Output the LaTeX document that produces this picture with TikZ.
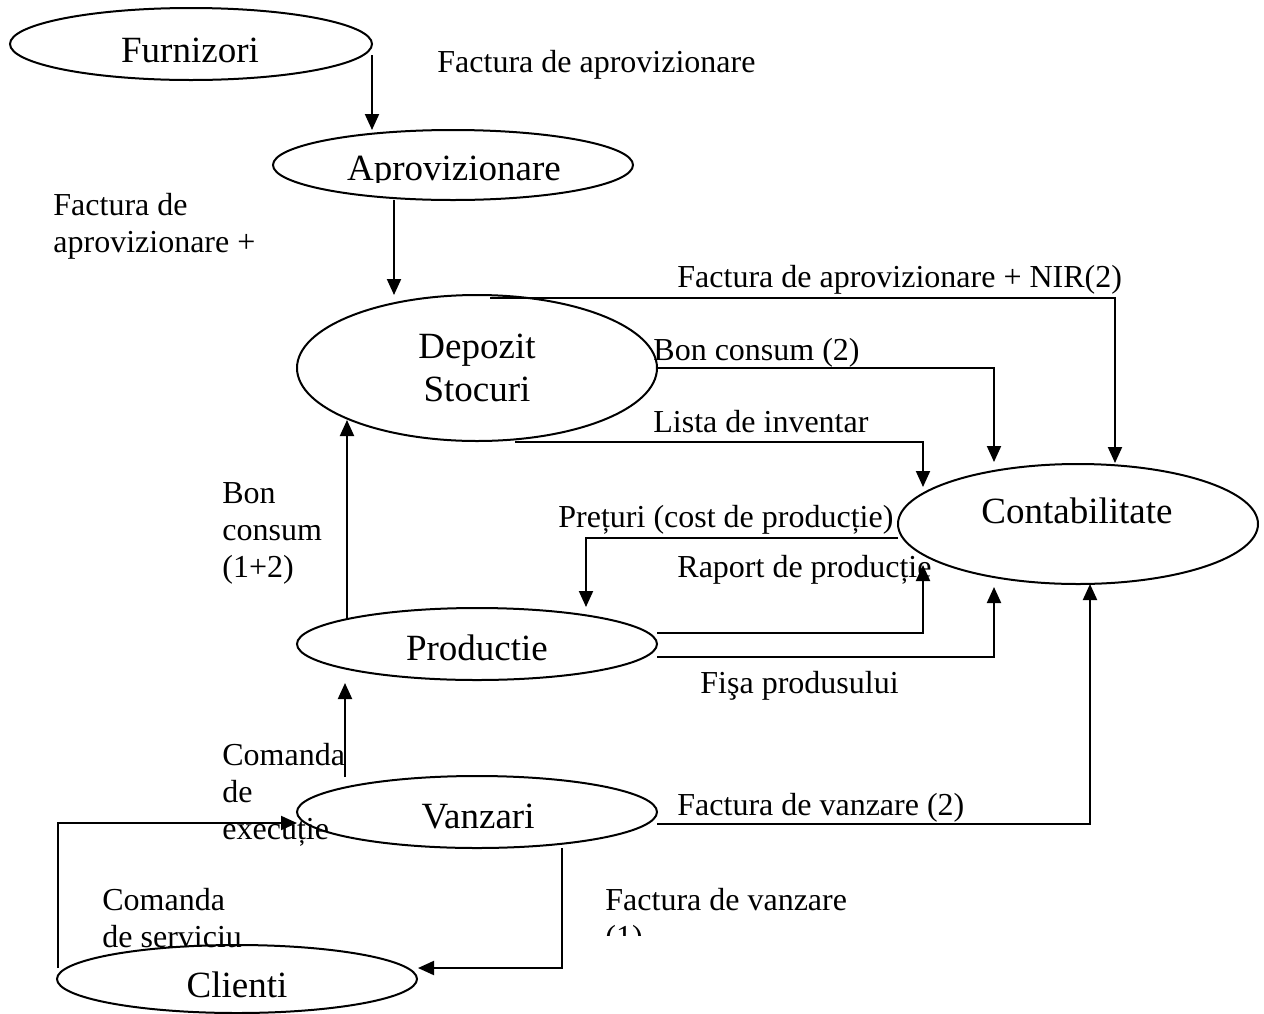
\documentclass[tikz,border=0pt]{standalone}
\usepackage{fontspec}
\setmainfont{Liberation Serif}
\usetikzlibrary{arrows.meta,shapes.geometric}
\begin{document}
\begin{tikzpicture}[x=0.5pt,y=-0.5pt,
  proc/.style={draw,ellipse,line width=1pt,inner sep=0pt,outer sep=0pt},
  big/.style={font=\fontsize{18.5}{21.5}\selectfont,inner sep=0pt,anchor=base},
  lbl/.style={font=\fontsize{16}{18.5}\selectfont,inner sep=0pt,anchor=base west},
  flow/.style={line width=1pt,-{Triangle[width=7pt,length=8pt]}},
]
\useasboundingbox (0,0) rectangle (1264,1013);

% processes
\node[proc,minimum width=181pt,minimum height=36pt] (furn) at (191,44) {};
\node[proc,minimum width=180pt,minimum height=35pt] (apro) at (453,165) {};
\node[proc,minimum width=180pt,minimum height=73pt] (dep)  at (477,368) {};
\node[proc,minimum width=180pt,minimum height=60pt] (cont) at (1078,524) {};
\node[proc,minimum width=180pt,minimum height=36pt] (prod) at (477,644) {};
\node[proc,minimum width=180pt,minimum height=36pt] (vanz) at (477,812) {};
\node[proc,minimum width=180pt,minimum height=34pt] (clie) at (237,979) {};

% process names
\node[big] (tfurn) at (190,62) {Furnizori};
\begin{scope}
  \clip (280,100) rectangle (640,182);
  \node[big] (tapro) at (454,180) {Aprovizionare};
\end{scope}
\node[big] (tdep) at (477,358) {\begin{tabular}[t]{@{}c@{}}Depozit\\Stocuri\end{tabular}};
\node[big] (tcont) at (1077,523) {Contabilitate};
\node[big] (tprod) at (477,660) {Productie};
\node[big] (tvanz) at (478,828) {Vanzari};
\node[big] (tclie) at (237,997) {Clienti};

% document flows
\draw[flow] ([yshift=-5.5pt]furn.east) -- (furn.east |- apro.north);
\draw[flow] ([xshift=-29.5pt]apro.south) -- ([xshift=-41.5pt]dep.north);
\draw[flow] ([xshift=6.5pt,yshift=-1.5pt]dep.north) -| ([xshift=18.5pt,yshift=0.5pt]cont.north);
\draw[flow] (dep.east) -| ([xshift=-42pt,yshift=1pt]cont.north);
\draw[flow] ([xshift=19pt,yshift=-0.5pt]dep.south) -| ([xshift=-77.5pt,yshift=-11.5pt]cont.north);
\draw[flow] ([yshift=-7pt]cont.west) -| ([xshift=54.5pt,yshift=0.5pt]prod.north);
\draw[flow] ([yshift=5.5pt]prod.east) -| ([xshift=-77.5pt,yshift=9.5pt]cont.south);
\draw[flow] ([yshift=-6.5pt]prod.east) -| ([xshift=-42pt,yshift=-1.5pt]cont.south);
\draw[flow] ([xshift=-65pt,yshift=-5.5pt]prod.north) -- ([xshift=-65pt,yshift=10.5pt]dep.south);
\draw[flow] ([xshift=-66pt,yshift=-0.5pt]vanz.north) -- ([xshift=-66pt,yshift=-1.5pt]prod.south);
\draw[flow] ([yshift=-6pt]vanz.east) -| ([xshift=6pt]cont.south);
\draw[flow] ([xshift=42.5pt]vanz.south) |- ([xshift=0.5pt,yshift=5.5pt]clie.east);
\draw[flow] ([xshift=0.5pt,yshift=5.5pt]clie.west) |- ([yshift=-5.5pt]vanz.west);

% flow labels
\node[lbl] (l1) at (437,72) {Factura de aprovizionare};
\node[lbl] (l2) at (53,215) {\begin{tabular}[t]{@{}l@{}}Factura de\\aprovizionare +\end{tabular}};
\node[lbl] (l3) at (677,287) {Factura de aprovizionare + NIR(2)};
\node[lbl] (l4) at (653,360) {Bon consum (2)};
\node[lbl] (l5) at (653,432) {Lista de inventar};
\node[lbl] (l6) at (558,527) {Prețuri (cost de producție)};
\node[lbl] (l7) at (677,577) {Raport de producție};
\node[lbl] (l8) at (700,693) {Fişa produsului};
\node[lbl] (l9) at (222,503) {\begin{tabular}[t]{@{}l@{}}Bon\\consum\\(1+2)\end{tabular}};
\node[lbl] (l10) at (222,765) {\begin{tabular}[t]{@{}l@{}}Comanda\\de\\execuție\end{tabular}};
\node[lbl] (l11) at (102,910) {\begin{tabular}[t]{@{}l@{}}Comanda\\de serviciu\end{tabular}};
\node[lbl] (l12) at (677,815) {Factura de vanzare (2)};
\begin{scope}
  \clip (590,860) rectangle (900,935);
  \node[lbl] (l13) at (605,910) {\begin{tabular}[t]{@{}l@{}}Factura de vanzare\\(1)\end{tabular}};
\end{scope}
\end{tikzpicture}
\end{document}
